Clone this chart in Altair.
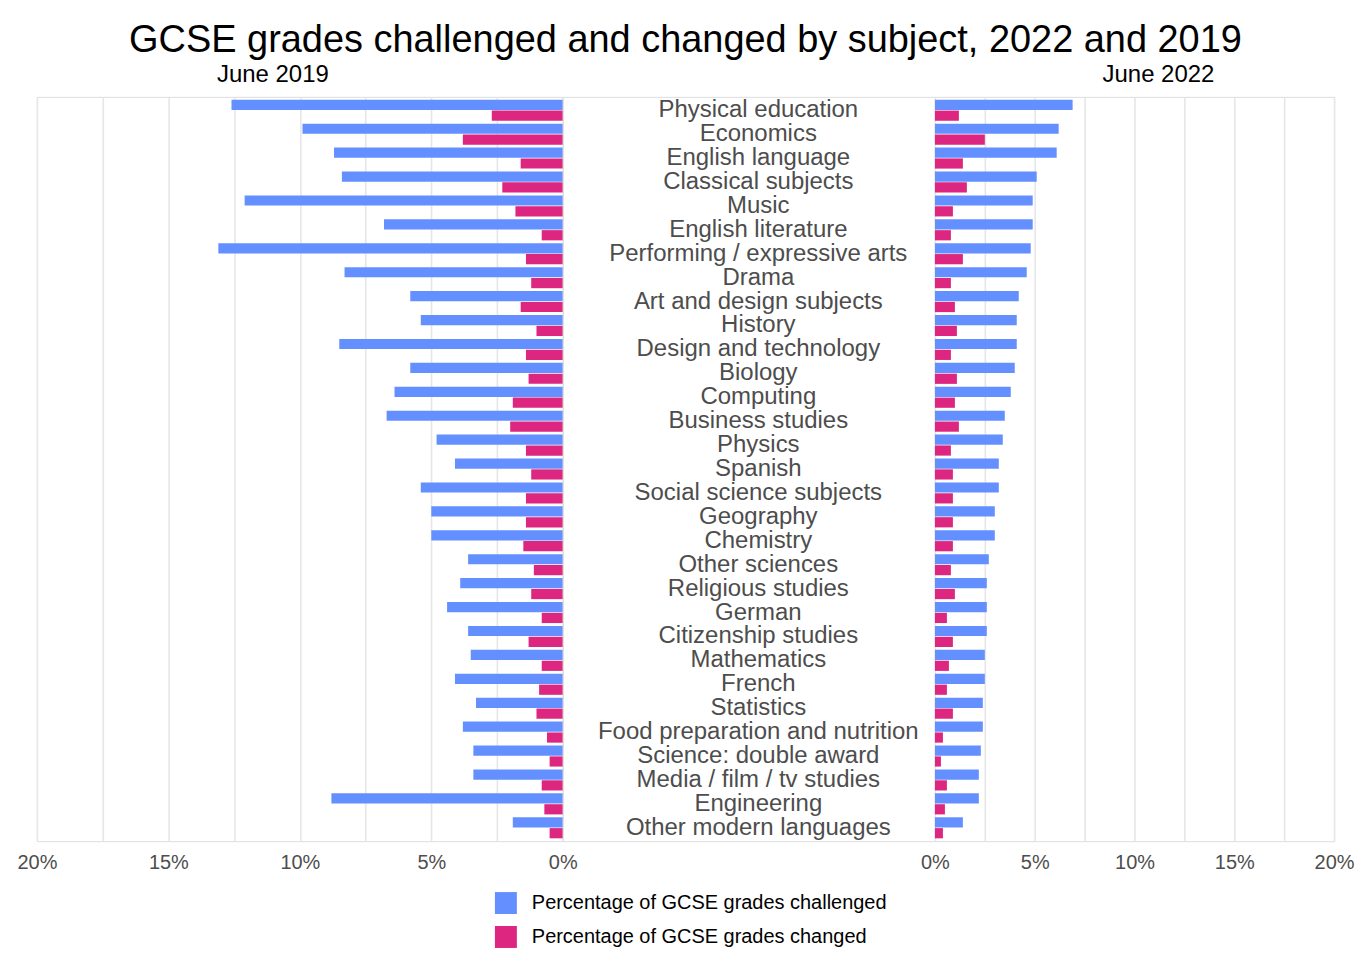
import altair as alt
import pandas as pd

subjects = [
    "Physical education", "Economics", "English language", "Classical subjects",
    "Music", "English literature", "Performing / expressive arts", "Drama",
    "Art and design subjects", "History", "Design and technology", "Biology",
    "Computing", "Business studies", "Physics", "Spanish",
    "Social science subjects", "Geography", "Chemistry", "Other sciences",
    "Religious studies", "German", "Citizenship studies", "Mathematics",
    "French", "Statistics", "Food preparation and nutrition",
    "Science: double award", "Media / film / tv studies", "Engineering",
    "Other modern languages",
]

challenged_2019 = [12.6, 9.9, 8.7, 8.4, 12.1, 6.8, 13.1, 8.3, 5.8, 5.4, 8.5, 5.8, 6.4, 6.7, 4.8, 4.1,
                   5.4, 5.0, 5.0, 3.6, 3.9, 4.4, 3.6, 3.5, 4.1, 3.3, 3.8, 3.4, 3.4, 8.8, 1.9]
changed_2019 = [2.7, 3.8, 1.6, 2.3, 1.8, 0.8, 1.4, 1.2, 1.6, 1.0, 1.4, 1.3, 1.9, 2.0, 1.4, 1.2,
                1.4, 1.4, 1.5, 1.1, 1.2, 0.8, 1.3, 0.8, 0.9, 1.0, 0.6, 0.5, 0.8, 0.7, 0.5]
challenged_2022 = [6.9, 6.2, 6.1, 5.1, 4.9, 4.9, 4.8, 4.6, 4.2, 4.1, 4.1, 4.0, 3.8, 3.5, 3.4, 3.2,
                   3.2, 3.0, 3.0, 2.7, 2.6, 2.6, 2.6, 2.5, 2.5, 2.4, 2.4, 2.3, 2.2, 2.2, 1.4]
changed_2022 = [1.2, 2.5, 1.4, 1.6, 0.9, 0.8, 1.4, 0.8, 1.0, 1.1, 0.8, 1.1, 1.0, 1.2, 0.8, 0.9,
                0.9, 0.9, 0.9, 0.8, 1.0, 0.6, 0.9, 0.7, 0.6, 0.9, 0.4, 0.3, 0.6, 0.5, 0.4]

M1 = "Percentage of GCSE grades challenged"
M2 = "Percentage of GCSE grades changed"
measures = [M1, M2]
colors = ["#648FFF", "#DC267F"]
grid_values = [0, 2.5, 5, 7.5, 10, 12.5, 15, 17.5, 20]

FONT = "Liberation Sans"
TITLE = "GCSE grades challenged and changed by subject, 2022 and 2019"


def to_long(ch, cg):
    rows = []
    for s, a, b in zip(subjects, ch, cg):
        rows.append({"subject": s, "measure": M1, "value": a})
        rows.append({"subject": s, "measure": M2, "value": b})
    return pd.DataFrame(rows)


df19 = to_long(challenged_2019, changed_2019)
df22 = to_long(challenged_2022, changed_2022)
df_names = pd.DataFrame({"subject": subjects})

H = 746
W_LEFT, W_MID, W_RIGHT = 527, 373, 400

y_enc = alt.Y("subject:N", sort=subjects, axis=None,
              scale=alt.Scale(paddingInner=0.12, paddingOuter=0.12))
y_off = alt.YOffset("measure:N", sort=measures, scale=alt.Scale(paddingInner=0.06))

color_enc = alt.Color(
    "measure:N",
    scale=alt.Scale(domain=measures, range=colors),
    legend=alt.Legend(
        title=None, orient="none", legendX=459, legendY=797, direction="vertical",
        symbolType="square", symbolSize=484, symbolStrokeWidth=0,
        labelFontSize=20, labelFont=FONT, labelColor="black", labelLimit=0,
        rowPadding=12, labelOffset=15, padding=0,
    ),
)


def x_axis():
    return alt.Axis(
        values=grid_values,
        labelExpr="datum.value % 5 == 0 ? datum.value + '%' : ''",
        grid=True, gridColor="#e6e6e6", gridWidth=1.6,
        domain=False, ticks=False, labelFontSize=20, labelFont=FONT,
        labelColor="#4d4d4d", labelPadding=11, labelFlush=False,
        labelOverlap=False, title=None,
    )


left = alt.Chart(df19).mark_bar().encode(
    y=y_enc, yOffset=y_off,
    x=alt.X("value:Q", scale=alt.Scale(domain=[0, 20], reverse=True), axis=x_axis()),
    color=color_enc,
).properties(
    width=W_LEFT, height=H,
    title=alt.TitleParams("June 2019", fontSize=24, font=FONT, color="black",
                          fontWeight="normal", anchor="middle", dx=-27, offset=10),
)

middle = alt.Chart(df_names).mark_text(
    fontSize=24, font=FONT, color="#4d4d4d", baseline="middle", align="center"
).encode(
    y=y_enc, x=alt.value(196), text="subject:N",
).properties(width=W_MID, height=H)

right = alt.Chart(df22).mark_bar().encode(
    y=y_enc, yOffset=y_off,
    x=alt.X("value:Q", scale=alt.Scale(domain=[0, 20]), axis=x_axis()),
    color=color_enc,
).properties(
    width=W_RIGHT, height=H,
    title=alt.TitleParams("June 2022", fontSize=24, font=FONT, color="black",
                          fontWeight="normal", anchor="middle", dx=24, offset=10),
)

chart = alt.hconcat(left, middle, right, spacing=0, bounds="flush").resolve_scale(
    x="independent", y="shared", color="shared"
).properties(
    title=alt.TitleParams(TITLE, fontSize=38, font=FONT, color="black",
                          fontWeight="normal", anchor="middle", offset=2),
    padding={"left": 8, "right": 0, "top": 13, "bottom": 0},
).configure_view(
    strokeWidth=0, stroke="transparent", strokeOpacity=0
).configure_axis(
    domain=False, domainOpacity=0
).configure(background="white")

chart.save("out.html", embed_options={"renderer": "svg", "actions": False})
